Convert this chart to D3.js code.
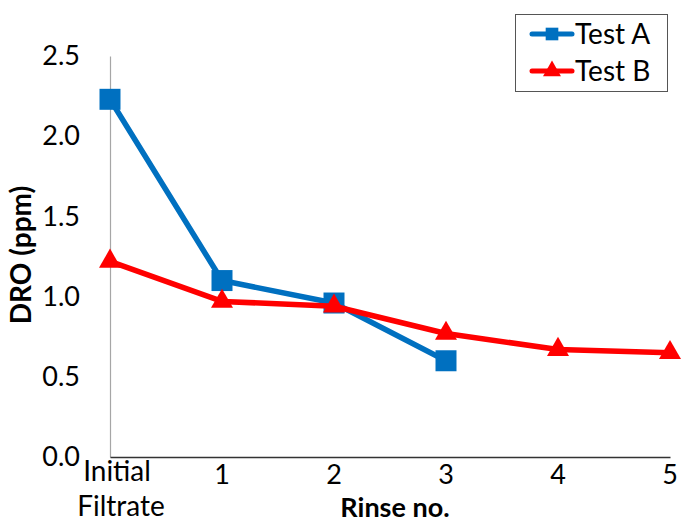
<!DOCTYPE html>
<html>
<head>
<meta charset="utf-8">
<script src="https://cdn.jsdelivr.net/npm/d3@7"></script>
<style>
  html, body { margin: 0; padding: 0; background: #fff; }
  svg { display: block; font-family: Lato, "Open Sans", sans-serif; }
</style>
</head>
<body>
<svg id="chart" width="683" height="523"></svg>
<script>
// Rinse stages along the x axis
const categories = ["Initial Filtrate", "1", "2", "3", "4", "5"];
// DRO concentrations (ppm) for each test
const testA = [2.23, 1.10, 0.96, 0.60];
const testB = [1.22, 0.97, 0.94, 0.77, 0.67, 0.65];
const yTicks = [0, 0.5, 1.0, 1.5, 2.0, 2.5];

const series = [
  { name: "Test A", values: testA, color: "#0070C0", marker: "square" },
  { name: "Test B", values: testB, color: "#FF0000", marker: "triangle" }
];

const svg = d3.select("#chart");
const x = d3.scalePoint().domain(categories).range([110, 670]);
const y = d3.scaleLinear().domain([0, 2.5]).range([457, 56]);

// Y axis: thin grey line, labels only
const yAxis = svg.append("g")
  .attr("transform", "translate(110,0)")
  .call(d3.axisLeft(y).tickValues(yTicks).tickFormat(d3.format(".1f")).tickSize(0).tickPadding(30));
yAxis.select(".domain").attr("stroke", "#a6a6a6").attr("stroke-width", 1.2);
yAxis.selectAll("text").attr("font-size", 27).attr("fill", "#000")
  .attr("font-family", "Lato, sans-serif");

// X axis baseline
const xAxis = svg.append("g")
  .attr("transform", "translate(0,457)")
  .call(d3.axisBottom(x).tickSize(0).tickFormat(""));
xAxis.select(".domain").attr("stroke", "#333").attr("stroke-width", 1.5);

// X category labels
categories.forEach((c, i) => {
  const words = c.split(" ");
  if (words.length > 1) {
    const t = svg.append("text").attr("text-anchor", "middle")
      .attr("font-size", 28).attr("fill", "#000");
    t.append("tspan").attr("x", x(c) + 7).attr("y", 481).text(words[0]);
    t.append("tspan").attr("x", x(c) + 11).attr("y", 516).text(words.slice(1).join(" "));
  } else {
    svg.append("text").attr("x", x(c)).attr("y", 484)
      .attr("text-anchor", "middle").attr("font-size", 27).attr("fill", "#000").text(c);
  }
});

// Axis titles
svg.append("text").attr("x", 395).attr("y", 517).attr("text-anchor", "middle")
  .attr("font-size", 27).attr("font-weight", "bold").text("Rinse no.");
svg.append("text").attr("transform", "translate(31,255) rotate(-90)")
  .attr("text-anchor", "middle").attr("font-size", 28).attr("font-weight", "bold").text("DRO (ppm)");

const line = d3.line().x((d, i) => x(categories[i])).y(d => y(d));
const square = d3.symbol().type(d3.symbolSquare).size(21 * 21);
const triangle = d3.symbol().type(d3.symbolTriangle).size(210);

series.forEach(s => {
  svg.append("path").datum(s.values)
    .attr("d", line).attr("fill", "none")
    .attr("stroke", s.color).attr("stroke-width", 5.5).attr("stroke-linejoin", "round");
  svg.selectAll(null).data(s.values).enter().append("path")
    .attr("transform", (d, i) => `translate(${x(categories[i])},${y(d)})`)
    .attr("d", s.marker === "square" ? square : triangle)
    .attr("fill", s.color);
});

// Legend
const legend = svg.append("g");
legend.append("rect").attr("x", 515.5).attr("y", 14.5).attr("width", 152).attr("height", 77)
  .attr("fill", "#fff").attr("stroke", "#555").attr("stroke-width", 1);
series.forEach((s, i) => {
  const ly = 34 + i * 37;
  legend.append("line").attr("x1", 532).attr("x2", 572).attr("y1", ly).attr("y2", ly)
    .attr("stroke", s.color).attr("stroke-width", 5).attr("stroke-linecap", "round");
  legend.append("path").attr("transform", `translate(552,${ly})`)
    .attr("d", s.marker === "square" ? d3.symbol().type(d3.symbolSquare).size(160)() : d3.symbol().type(d3.symbolTriangle).size(140)())
    .attr("fill", s.color);
  legend.append("text").attr("x", 575).attr("y", ly + 10).attr("font-size", 28).attr("fill", "#000").text(s.name);
});
</script>
</body>
</html>
